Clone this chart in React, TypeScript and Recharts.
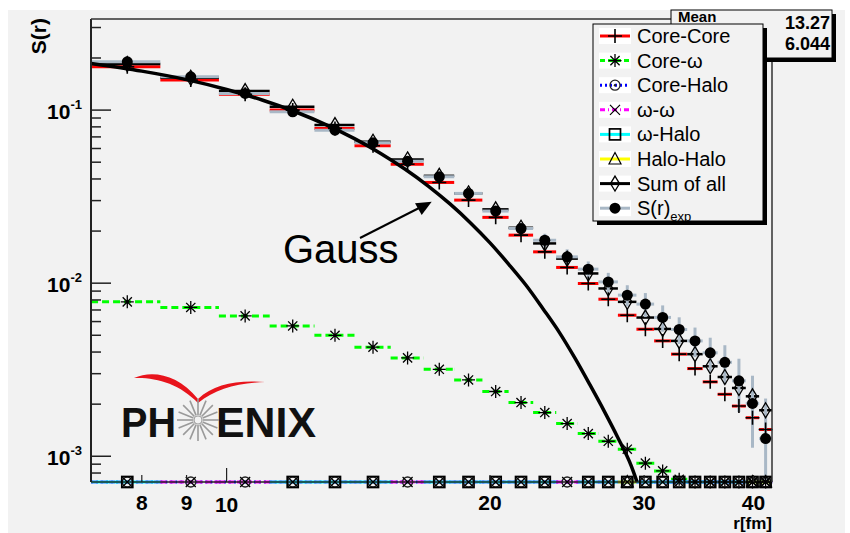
import React from "react";
import { ComposedChart, XAxis, YAxis, Scatter, Line, ErrorBar } from "recharts";

// bin centres in r [fm], 1.4 fm bins from 7 to 42
const binCenters = [
  7.7, 9.1, 10.5, 11.9, 13.3, 14.7, 16.1, 17.5, 18.9, 20.3, 21.7, 23.1, 24.5,
  25.9, 27.3, 28.7, 30.1, 31.5, 32.9, 34.3, 35.7, 37.1, 38.5, 39.9, 41.3,
];
const binHalfWidth = 0.7;

const coreCore = [
  0.178, 0.149, 0.1233, 0.1, 0.0784, 0.0622, 0.0487, 0.0382, 0.0302, 0.024,
  0.01895, 0.01517, 0.01233, 0.00996, 0.00808, 0.00653, 0.00542, 0.00464,
  0.00389, 0.00321, 0.00269, 0.00228, 0.00195, 0.00167, 0.001427,
];
const coreOmega = [
  0.0078, 0.00724, 0.00647, 0.00566, 0.005, 0.00427, 0.0037, 0.00318, 0.00276,
  0.002366, 0.002043, 0.001789, 0.001545, 0.001352, 0.001221, 0.001098,
  0.000912, 0.000823, 0.000736, 0.00071, 0.00071, 0.00071, 0.00071, 0.00071, 0.00071,
];
// the small components all sit on the lower edge of the frame (null = empty bin)
const coreHalo = [
  7.1e-4, 7.1e-4, 7.1e-4, 7.1e-4, 7.1e-4, 7.1e-4, 7.1e-4, 7.1e-4, 7.1e-4, 7.1e-4, 7.1e-4, 7.1e-4, 7.1e-4,
  7.1e-4, 7.1e-4, 7.1e-4, 7.1e-4, 7.1e-4, 7.1e-4, 7.1e-4, 7.1e-4, 7.1e-4, 7.1e-4, 7.1e-4, 7.1e-4,
];
const omegaOmega = [
  7.1e-4, 7.1e-4, 7.1e-4, 7.1e-4, 7.1e-4, 7.1e-4, 7.1e-4, 7.1e-4, 7.1e-4, 7.1e-4, 7.1e-4, 7.1e-4, 7.1e-4,
  7.1e-4, 7.1e-4, 7.1e-4, 7.1e-4, 7.1e-4, 7.1e-4, 7.1e-4, 7.1e-4, 7.1e-4, 7.1e-4, 7.1e-4, 7.1e-4,
];
const omegaHalo = [
  7.1e-4, null, null, 7.1e-4, 7.1e-4, 7.1e-4, null, 7.1e-4, 7.1e-4, 7.1e-4, 7.1e-4, 7.1e-4, null,
  7.1e-4, 7.1e-4, 7.1e-4, 7.1e-4, 7.1e-4, 7.1e-4, 7.1e-4, 7.1e-4, 7.1e-4, 7.1e-4, 7.1e-4, 7.1e-4,
];
const haloHalo = [
  null, null, null, null, null, null, null, null, null, null, null, null, null,
  null, null, 7.1e-4, null, null, null, null, null, null, null, 7.1e-4, 7.1e-4,
];
const sumOfAll = [
  0.1845, 0.1537, 0.1288, 0.1045, 0.0819, 0.0656, 0.0519, 0.0417, 0.033, 0.0267,
  0.0209, 0.01697, 0.01386, 0.01138, 0.00932, 0.0078, 0.00633, 0.00544, 0.00464,
  0.00389, 0.00331, 0.00287, 0.00248, 0.00222, 0.001845,
];
const sExp = [
  0.19, 0.1558, 0.1249, 0.0978, 0.0766, 0.0647, 0.0507, 0.0412, 0.033, 0.0261,
  0.0207, 0.0177, 0.01419, 0.01205, 0.01017, 0.00853, 0.00757, 0.00634, 0.0054,
  0.00464, 0.00396, 0.00349, 0.00273, 0.00202, 0.001265,
];
const sExpErrHigh = [
  0.004, 0.0035, 0.003, 0.0025, 0.0022, 0.002, 0.0018, 0.0017, 0.0016, 0.0016,
  0.0016, 0.0016, 0.0015, 0.0013, 0.0013, 0.0012, 0.0012, 0.0011, 0.00095,
  0.0009, 0.00088, 0.00089, 0.00093, 0.0009, 0.00089,
];
const sExpErrLow = [
  0.004, 0.0035, 0.003, 0.0025, 0.0022, 0.002, 0.0018, 0.0017, 0.0016, 0.0016,
  0.0016, 0.0016, 0.0015, 0.0013, 0.0013, 0.0012, 0.0012, 0.0011, 0.00095,
  0.0009, 0.00088, 0.00089, 0.00093, 0.0009, 0.00055,
];

// Gauss curve
const gaussR = [7, 8, 9, 10, 11, 12, 13, 14, 15, 16, 17, 18, 19, 20, 21, 22, 23, 24, 25, 26, 27, 28, 29, 29.45];
const gaussS = [
  0.186, 0.168, 0.15, 0.1315, 0.114, 0.0975, 0.0822, 0.0684, 0.0562, 0.0455,
  0.0364, 0.0287, 0.0223, 0.0171, 0.0129, 0.0097, 0.0071, 0.0052, 0.0037,
  0.0026, 0.00183, 0.00128, 0.00088, 0.00071,
];

const xTicks = [8, 9, 10, 20, 30, 40];
const yTicks = [
  8e-4, 9e-4, 1e-3, 2e-3, 3e-3, 4e-3, 5e-3, 6e-3, 7e-3, 8e-3, 9e-3, 1e-2, 0.02,
  0.03, 0.04, 0.05, 0.06, 0.07, 0.08, 0.09, 0.1, 0.2, 0.3,
];
const yLabelled = [1e-3, 1e-2, 1e-1];
const statValues = ["13.27", "6.044"];

const FONT = "'Liberation Sans', Arial, Helvetica, sans-serif";
const BG = "#f2f2f2";
const SEXP_GRAY = "#a9b8c6";

const toPoints = (vals: (number | null)[], lo?: number[], hi?: number[]) =>
  binCenters
    .map((r, i) => ({
      r,
      v: vals[i],
      ex: binHalfWidth,
      ey: lo && hi ? [lo[i], hi[i]] : 0,
    }))
    .filter((p) => p.v != null);

const gaussData = gaussR.map((r, i) => ({ r, v: gaussS[i] }));

// markers
const mPlus = (cx: number, cy: number) => (
  <path d={`M${cx - 7} ${cy}H${cx + 7}M${cx} ${cy - 7}V${cy + 7}`} stroke="#000" strokeWidth={1.6} fill="none" />
);
const mStar = (cx: number, cy: number) => {
  const r = 6.5;
  const d = 4.6;
  return (
    <path
      d={`M${cx - r} ${cy}H${cx + r}M${cx} ${cy - r}V${cy + r}M${cx - d} ${cy - d}L${cx + d} ${cy + d}M${cx - d} ${cy + d}L${cx + d} ${cy - d}`}
      stroke="#000"
      strokeWidth={1.3}
      fill="none"
    />
  );
};
const mCircleDot = (cx: number, cy: number) => (
  <g>
    <circle cx={cx} cy={cy} r={5} fill="none" stroke="#222" strokeWidth={1.3} />
    <circle cx={cx} cy={cy} r={1.2} fill="#222" />
  </g>
);
const mCross = (cx: number, cy: number) => (
  <path d={`M${cx - 5} ${cy - 5}L${cx + 5} ${cy + 5}M${cx - 5} ${cy + 5}L${cx + 5} ${cy - 5}`} stroke="#000" strokeWidth={1.2} fill="none" />
);
const mSquare = (cx: number, cy: number) => (
  <rect x={cx - 5.5} y={cy - 5.5} width={11} height={11} fill="none" stroke="#000" strokeWidth={1.7} />
);
const mTriangle = (cx: number, cy: number) => (
  <path d={`M${cx} ${cy - 6.5}L${cx + 6} ${cy + 5}L${cx - 6} ${cy + 5}Z`} fill="none" stroke="#000" strokeWidth={1.2} />
);
const mDiamond = (cx: number, cy: number) => (
  <path d={`M${cx} ${cy - 7.5}L${cx + 4.5} ${cy}L${cx} ${cy + 7.5}L${cx - 4.5} ${cy}Z`} fill="none" stroke="#000" strokeWidth={1.3} />
);
const mDot = (cx: number, cy: number) => <circle cx={cx} cy={cy} r={5.5} fill="#000" />;

const shapeOf = (m: (cx: number, cy: number) => React.ReactElement) => (p: any) =>
  p.cx == null || p.cy == null ? <g /> : m(p.cx, p.cy);

const renderYTick = (props: any) => {
  const { x, y, payload } = props;
  const major = yLabelled.includes(payload.value);
  const exp = Math.round(Math.log10(payload.value));
  return (
    <g key={`yt-${payload.value}`}>
      <line x1={x} x2={x + (major ? 20 : 10)} y1={y} y2={y} stroke="#222" strokeWidth={1.5} />
      {major && (
        <text x={x - 9} y={y + 9} textAnchor="end" fontFamily={FONT} fontWeight="bold" fontSize={21} fill="#000">
          10
          <tspan dy={-10} fontSize={13}>
            {exp}
          </tspan>
        </text>
      )}
    </g>
  );
};

const renderXTick = (props: any) => {
  const { x, y, payload } = props;
  const v = payload.value;
  return (
    <g key={`xt-${v}`}>
      <line x1={x} x2={x} y1={y} y2={y - (v === 10 ? 14 : 7)} stroke="#222" strokeWidth={1.2} />
      <text x={x} y={y + (v === 10 ? 30 : 28)} textAnchor="middle" fontFamily={FONT} fontWeight="bold" fontSize={21} fill="#000">
        {String(v)}
      </text>
    </g>
  );
};

const legendRows: { label: React.ReactNode; color: string; dash?: string; marker: (cx: number, cy: number) => React.ReactElement }[] = [
  { label: "Core-Core", color: "#ff0000", marker: mPlus },
  { label: "Core-ω", color: "#00ff00", dash: "5 3", marker: mStar },
  { label: "Core-Halo", color: "#0000ff", dash: "2 3", marker: mCircleDot },
  { label: "ω-ω", color: "#ff00ff", dash: "5 3 1 3", marker: mCross },
  { label: "ω-Halo", color: "#00ffff", marker: mSquare },
  { label: "Halo-Halo", color: "#ffff00", marker: mTriangle },
  { label: "Sum of all", color: "#000", marker: mDiamond },
  {
    label: (
      <>
        S(r)
        <tspan dy={6} fontSize={13}>
          exp
        </tspan>
      </>
    ),
    color: SEXP_GRAY,
    marker: mDot,
  },
];

function Overlay() {
  const spokes = Array.from({ length: 16 }, (_, i) => (i * Math.PI) / 8);
  return (
    <svg width={850} height={533} style={{ position: "absolute", left: 0, top: 0, pointerEvents: "none" }}>
      {/* frame top / right */}
      <path d="M91 19H772V482" fill="none" stroke="#333" strokeWidth={1.5} />

      {/* axis titles */}
      <text transform="translate(46,18) rotate(-90)" textAnchor="end" fontFamily={FONT} fontWeight="bold" fontSize={21}>
        S(r)
      </text>
      <text x={772} y={529} textAnchor="end" fontFamily={FONT} fontWeight="bold" fontSize={17}>
        r[fm]
      </text>

      {/* stats box */}
      <rect x={675} y={14} width={161} height={48} fill="#000" />
      <rect x={671} y={10} width={161} height={48} fill={BG} stroke="#000" strokeWidth={1} />
      <text x={678} y={22} fontFamily={FONT} fontWeight="bold" fontSize={15}>
        Mean
      </text>
      {statValues.map((s, i) => (
        <text key={s} x={830} y={29 + i * 21} textAnchor="end" fontFamily={FONT} fontWeight="bold" fontSize={18}>
          {s}
        </text>
      ))}

      {/* legend */}
      <rect x={597} y={28} width={170} height={197} fill="#000" />
      <rect x={593} y={24} width={170} height={197} fill={BG} stroke="#000" strokeWidth={1} />
      {legendRows.map((row, i) => {
        const cy = 36 + i * 24.6;
        return (
          <g key={i}>
            <rect x={599} y={cy - 8} width={32} height={16} fill="#fff" />
            <line x1={600} x2={630} y1={cy} y2={cy} stroke={row.color} strokeWidth={3} strokeDasharray={row.dash} />
            {row.marker(615, cy)}
            <text x={637} y={cy + 7} fontFamily={FONT} fontSize={20} fill="#000">
              {row.label}
            </text>
          </g>
        );
      })}

      {/* Gauss annotation */}
      <line x1={360} y1={238} x2={421} y2={207} stroke="#000" strokeWidth={2} />
      <polygon points="431.7,201.7 415,203.3 421.7,215" fill="#000" />
      <text x={283} y={263} fontFamily={FONT} fontSize={40} fill="#000">
        Gauss
      </text>

      {/* PHENIX logo */}
      <path
        d="M134 378 C152 370 178 374 198 399 C214 384 236 380 265 382 C236 383 216 389 198 403 C180 384 156 377 134 378 Z"
        fill="#e8141c"
      />
      <text x={121} y={437} fontFamily={FONT} fontWeight="bold" fontSize={43} textLength={55} lengthAdjust="spacingAndGlyphs" fill="#111">
        PH
      </text>
      <text x={216} y={437} fontFamily={FONT} fontWeight="bold" fontSize={43} textLength={100} lengthAdjust="spacingAndGlyphs" fill="#111">
        ENIX
      </text>
      <g stroke="#9a9a9a" strokeWidth={1.6}>
        {spokes.map((a, i) => (
          <line key={i} x1={198 + 5 * Math.cos(a)} y1={420 + 5 * Math.sin(a)} x2={198 + 21 * Math.cos(a)} y2={420 + 21 * Math.sin(a)} />
        ))}
      </g>
      <circle cx={198} cy={420} r={4} fill="none" stroke="#9a9a9a" strokeWidth={1.2} />
    </svg>
  );
}

export default function App() {
  return (
    <div style={{ position: "absolute", left: 0, top: 0, width: 850, height: 533, background: "#fff" }}>
      <div style={{ position: "absolute", left: 8, top: 10, width: 837, height: 523, background: BG }} />
      <div style={{ position: "absolute", left: 0, top: 0 }}>
        <ComposedChart width={850} height={533} margin={{ top: 19, right: 78, bottom: 0, left: 0 }}>
          <XAxis
            dataKey="r"
            type="number"
            scale="log"
            domain={[6.999, 42.001]}
            ticks={xTicks}
            interval={0}
            minTickGap={0}
            height={51}
            tickSize={0}
            tickMargin={0}
            tick={renderXTick}
            axisLine={{ stroke: "#222", strokeWidth: 1.5 }}
          />
          <YAxis
            type="number"
            scale="log"
            domain={[7.1e-4, 0.336]}
            ticks={yTicks}
            interval={0}
            minTickGap={0}
            width={91}
            tickSize={0}
            tickMargin={0}
            tick={renderYTick}
            axisLine={{ stroke: "#222", strokeWidth: 2 }}
          />

          <Scatter data={toPoints(coreCore)} dataKey="v" shape={shapeOf(mPlus)} isAnimationActive={false}>
            <ErrorBar dataKey="ex" direction="x" width={0} stroke="#ff0000" strokeWidth={3} isAnimationActive={false} />
          </Scatter>
          <Scatter data={toPoints(coreOmega)} dataKey="v" shape={shapeOf(mStar)} isAnimationActive={false}>
            <ErrorBar dataKey="ex" direction="x" width={0} stroke="#00ff00" strokeWidth={3} strokeDasharray="7 4" isAnimationActive={false} />
          </Scatter>
          <Scatter data={toPoints(coreHalo)} dataKey="v" shape={shapeOf(mCircleDot)} isAnimationActive={false}>
            <ErrorBar dataKey="ex" direction="x" width={0} stroke="#0000ff" strokeWidth={3} strokeDasharray="2 3" isAnimationActive={false} />
          </Scatter>
          <Scatter data={toPoints(omegaOmega)} dataKey="v" shape={shapeOf(mCross)} isAnimationActive={false}>
            <ErrorBar dataKey="ex" direction="x" width={0} stroke="#ff00ff" strokeWidth={3} strokeDasharray="6 3" isAnimationActive={false} />
          </Scatter>
          <Scatter data={toPoints(omegaHalo)} dataKey="v" shape={shapeOf(mSquare)} isAnimationActive={false}>
            <ErrorBar dataKey="ex" direction="x" width={0} stroke="#00ffff" strokeWidth={3} isAnimationActive={false} />
          </Scatter>
          <Scatter data={toPoints(haloHalo)} dataKey="v" shape={shapeOf(mTriangle)} isAnimationActive={false}>
            <ErrorBar dataKey="ex" direction="x" width={0} stroke="#ffff00" strokeWidth={3} isAnimationActive={false} />
          </Scatter>
          <Scatter data={toPoints(sumOfAll)} dataKey="v" shape={shapeOf(mDiamond)} isAnimationActive={false}>
            <ErrorBar dataKey="ex" direction="x" width={0} stroke="#000" strokeWidth={2.5} isAnimationActive={false} />
          </Scatter>
          <Scatter data={toPoints(sExp, sExpErrLow, sExpErrHigh)} dataKey="v" shape={shapeOf(mDot)} isAnimationActive={false}>
            <ErrorBar dataKey="ex" direction="x" width={0} stroke={SEXP_GRAY} strokeWidth={3} isAnimationActive={false} />
            <ErrorBar dataKey="ey" direction="y" width={0} stroke={SEXP_GRAY} strokeWidth={3} isAnimationActive={false} />
          </Scatter>

          <Line data={gaussData} dataKey="v" type="monotone" stroke="#000" strokeWidth={3.5} dot={false} isAnimationActive={false} />
        </ComposedChart>
      </div>
      <Overlay />
    </div>
  );
}
